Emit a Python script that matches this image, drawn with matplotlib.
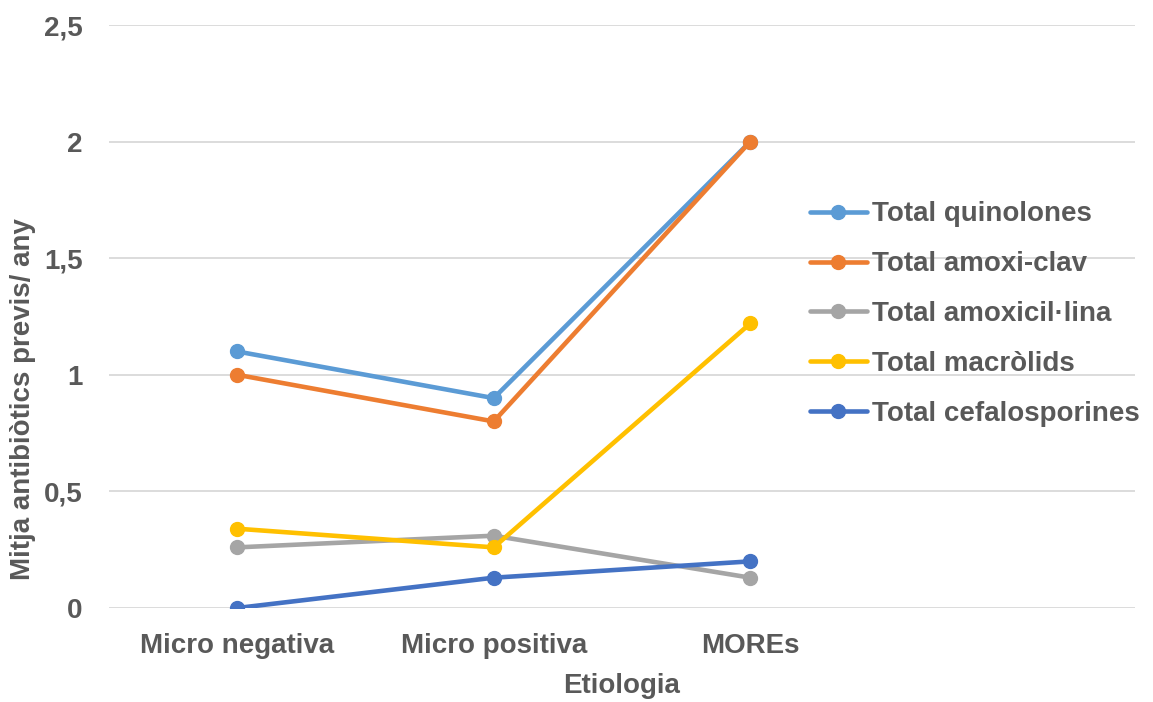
import matplotlib.pyplot as plt
from matplotlib.ticker import FuncFormatter

plt.rcParams['font.family'] = ['Liberation Sans', 'DejaVu Sans']
plt.rcParams['font.weight'] = 'bold'
plt.rcParams['axes.labelweight'] = 'bold'

categories = ["Micro negativa", "Micro positiva", "MOREs"]
quinolones = [1.1, 0.9, 2.0]
amoxi_clav = [1.0, 0.8, 2.0]
amoxicillina = [0.26, 0.31, 0.13]
macrolids = [0.34, 0.26, 1.22]
cefalosporines = [0.0, 0.13, 0.2]

series = [
    ("Total quinolones", quinolones, "#5B9BD5"),
    ("Total amoxi-clav", amoxi_clav, "#ED7D31"),
    ("Total amoxicil·lina", amoxicillina, "#A5A5A5"),
    ("Total macròlids", macrolids, "#FFC000"),
    ("Total cefalosporines", cefalosporines, "#4472C4"),
]

text_col = "#595959"

fig = plt.figure(figsize=(11.53, 7.02), dpi=100)
ax = fig.add_axes([109 / 1153, 1 - 608 / 702, (1135 - 109) / 1153, (608 - 25) / 702])

x = list(range(len(categories)))
for name, vals, col in series:
    ax.plot(x, vals, color=col, linewidth=3.3, marker='o', markersize=10,
            label=name, solid_capstyle='round')

# 4 category slots, the last one left empty for the legend
ax.set_xlim(-0.5, 3.5)
ax.set_ylim(0, 2.5)
ax.set_yticks([0, 0.5, 1, 1.5, 2, 2.5])
ax.yaxis.set_major_formatter(FuncFormatter(lambda v, p: f"{v:g}".replace(".", ",")))
ax.set_xticks(x)
ax.set_xticklabels(categories)
ax.grid(axis='y', color='#D9D9D9', linewidth=1.3)
ax.set_axisbelow(True)
for s in ax.spines.values():
    s.set_visible(False)
ax.tick_params(length=0, labelsize=20, labelcolor=text_col)
ax.tick_params(axis='y', pad=19)
ax.tick_params(axis='x', pad=18)

ax.set_xlabel("Etiologia", fontsize=20, color=text_col, labelpad=10)
ax.set_ylabel("Mitja antibiòtics previs/ any", fontsize=20, color=text_col)
ax.yaxis.set_label_coords(-0.071, 0.358)

leg = ax.legend(loc='center left', bbox_to_anchor=(0.683, 0.504), frameon=False,
                fontsize=20, handlelength=2.05, handletextpad=0.2, labelspacing=0.86,
                borderpad=0, borderaxespad=0)
for t in leg.get_texts():
    t.set_color(text_col)

fig.savefig("out.png", dpi=100)
